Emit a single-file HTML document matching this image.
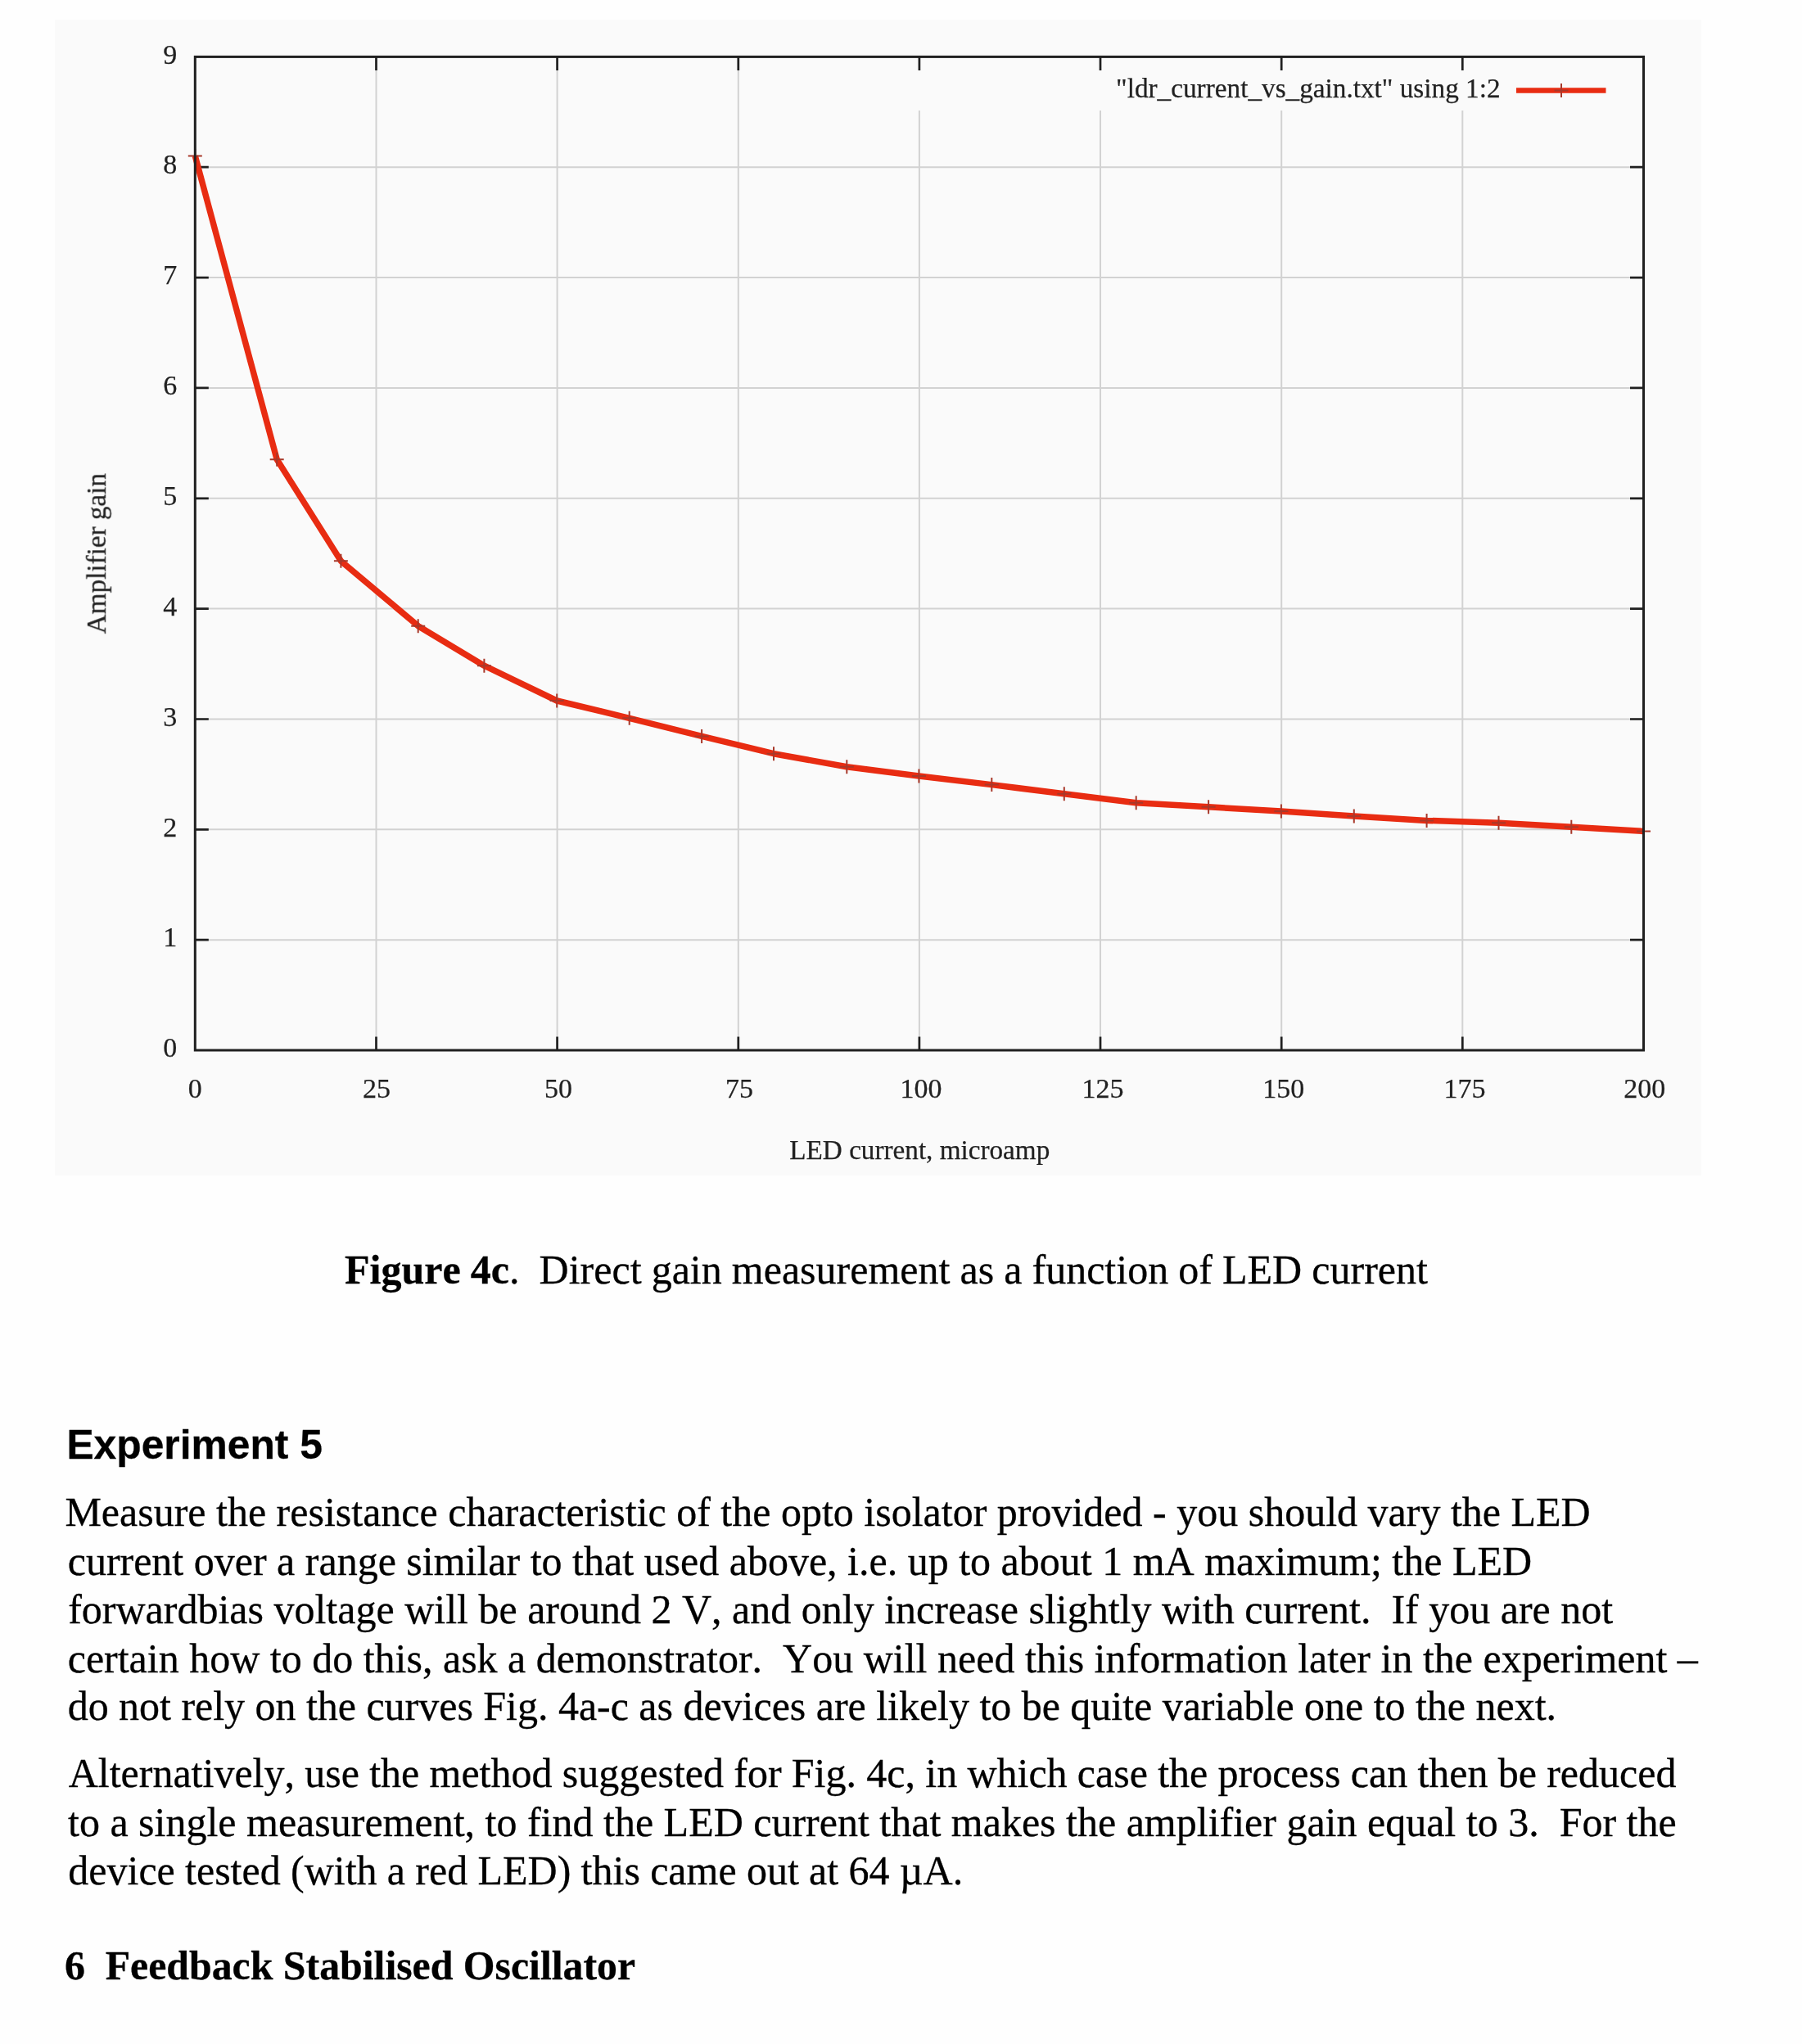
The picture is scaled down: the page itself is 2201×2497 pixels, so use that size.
<!DOCTYPE html><html><head><meta charset="utf-8"><title>Figure 4c</title><style>
html,body{margin:0;padding:0;background:#fefefe;}
#pg{font-kerning:none;}
.p,.h{-webkit-text-stroke:0.3px #000;}
#pg{position:relative;width:2201px;height:2497px;overflow:hidden;background:#fefefe;}
.p{position:absolute;white-space:pre;font-family:"Liberation Serif",serif;font-size:50px;line-height:50px;color:#000;}
.h{position:absolute;white-space:pre;font-family:"Liberation Sans",sans-serif;font-weight:bold;font-size:50px;line-height:50px;color:#000;}
</style></head><body><div id="pg">
<svg width="2201" height="1440" viewBox="0 0 2201 1440" style="position:absolute;left:0;top:0">
<rect x="67" y="24" width="2011" height="1412" fill="#fafafa"/>
<path d="M238.3 1148.2H2007.5 M238.3 1013.3H2007.5 M238.3 878.5H2007.5 M238.3 743.6H2007.5 M238.3 608.8H2007.5 M238.3 473.9H2007.5 M238.3 339.1H2007.5 M238.3 204.2H2007.5 M459.5 69.4V1283.0 M680.6 69.4V1283.0 M901.8 69.4V1283.0 M1122.9 135V1283.0 M1344.0 135V1283.0 M1565.2 135V1283.0 M1786.3 135V1283.0" stroke="#d2d2d2" stroke-width="2" fill="none"/>
<path d="M238.3 1148.2h16.5 M2007.5 1148.2h-16.5 M238.3 1013.3h16.5 M2007.5 1013.3h-16.5 M238.3 878.5h16.5 M2007.5 878.5h-16.5 M238.3 743.6h16.5 M2007.5 743.6h-16.5 M238.3 608.8h16.5 M2007.5 608.8h-16.5 M238.3 473.9h16.5 M2007.5 473.9h-16.5 M238.3 339.1h16.5 M2007.5 339.1h-16.5 M238.3 204.2h16.5 M2007.5 204.2h-16.5 M459.5 1283.0v-16.5 M459.5 69.4v16.5 M680.6 1283.0v-16.5 M680.6 69.4v16.5 M901.8 1283.0v-16.5 M901.8 69.4v16.5 M1122.9 1283.0v-16.5 M1122.9 69.4v16.5 M1344.0 1283.0v-16.5 M1344.0 69.4v16.5 M1565.2 1283.0v-16.5 M1565.2 69.4v16.5 M1786.3 1283.0v-16.5 M1786.3 69.4v16.5" stroke="#202020" stroke-width="2.7" fill="none"/>
<g font-family="Liberation Serif" font-size="34" fill="#202020" stroke="#202020" stroke-width="0.25" opacity="0.995"><text x="216.3" y="1291.2" text-anchor="end">0</text><text x="216.3" y="1156.4" text-anchor="end">1</text><text x="216.3" y="1021.5" text-anchor="end">2</text><text x="216.3" y="886.7" text-anchor="end">3</text><text x="216.3" y="751.8" text-anchor="end">4</text><text x="216.3" y="617.0" text-anchor="end">5</text><text x="216.3" y="482.1" text-anchor="end">6</text><text x="216.3" y="347.3" text-anchor="end">7</text><text x="216.3" y="212.4" text-anchor="end">8</text><text x="216.3" y="77.6" text-anchor="end">9</text><text x="238.3" y="1340.5" text-anchor="middle">0</text><text x="460.1" y="1340.5" text-anchor="middle">25</text><text x="682.1" y="1340.5" text-anchor="middle">50</text><text x="903.0" y="1340.5" text-anchor="middle">75</text><text x="1125.1" y="1340.5" text-anchor="middle">100</text><text x="1347.0" y="1340.5" text-anchor="middle">125</text><text x="1567.7" y="1340.5" text-anchor="middle">150</text><text x="1788.9" y="1340.5" text-anchor="middle">175</text><text x="2008.7" y="1340.5" text-anchor="middle">200</text><text x="1123.3" y="1415.6" text-anchor="middle" font-size="33.2">LED current, microamp</text><text transform="translate(128.8,676.2) rotate(-90)" x="0" y="0" text-anchor="middle" font-size="33.2">Amplifier gain</text><text x="1832.6" y="118.6" text-anchor="end" font-size="33.25">"ldr_current_vs_gain.txt" using 1:2</text></g>
<polyline points="238.3,190.5 338.2,561.3 416.4,685.3 510.7,764.7 591.4,813.2 680.2,856.0 768.7,877.3 857.1,899.4 945.0,920.7 1034.3,936.7 1122.4,948.0 1211.3,958.6 1299.8,969.8 1387.7,980.7 1476.1,985.8 1564.9,991.1 1653.8,996.9 1742.6,1002.4 1830.5,1005.2 1919.3,1010.2 2007.5,1015.5" fill="none" stroke="#e82c12" stroke-width="7.5" stroke-linejoin="round"/>
<path d="M1852 110.5H1961.5" stroke="#e82c12" stroke-width="6.5"/>
<path d="M229.8 190.5h17.0M238.3 182.0v17.0M329.7 561.3h17.0M338.2 552.8v17.0M407.9 685.3h17.0M416.4 676.8v17.0M502.2 764.7h17.0M510.7 756.2v17.0M582.9 813.2h17.0M591.4 804.7v17.0M671.7 856.0h17.0M680.2 847.5v17.0M760.2 877.3h17.0M768.7 868.8v17.0M848.6 899.4h17.0M857.1 890.9v17.0M936.5 920.7h17.0M945.0 912.2v17.0M1025.8 936.7h17.0M1034.3 928.2v17.0M1113.9 948.0h17.0M1122.4 939.5v17.0M1202.8 958.6h17.0M1211.3 950.1v17.0M1291.3 969.8h17.0M1299.8 961.3v17.0M1379.2 980.7h17.0M1387.7 972.2v17.0M1467.6 985.8h17.0M1476.1 977.3v17.0M1556.4 991.1h17.0M1564.9 982.6v17.0M1645.3 996.9h17.0M1653.8 988.4v17.0M1734.1 1002.4h17.0M1742.6 993.9v17.0M1822.0 1005.2h17.0M1830.5 996.7v17.0M1910.8 1010.2h17.0M1919.3 1001.7v17.0M1999.0 1015.5h17.0M2007.5 1007.0v17.0M1898.5 110.5h17.0M1907.0 102.0v17.0" stroke="#a8382a" stroke-width="2" fill="none"/>
<rect x="238.3" y="69.4" width="1769.2" height="1213.6" stroke="#202020" stroke-width="3" fill="none"/>
</svg>
<div class="p" style="left:421.0px;top:1526.4px;word-spacing:-0.4px"><b>Figure 4c</b>.  Direct gain measurement as a function of LED current</div>
<div class="h" style="left:81.4px;top:1740.3px"><span style="font-size:49.75px">Experiment 5</span></div>
<div class="p" style="left:79.4px;top:1822.1px">Measure the resistance characteristic of the opto isolator provided - you should vary the LED</div>
<div class="p" style="left:82.7px;top:1882.3px">current over a range similar to that used above, i.e. up to about 1 mA maximum; the LED</div>
<div class="p" style="left:83.2px;top:1941.1px">forwardbias voltage will be around 2 V, and only increase slightly with current.  If you are not</div>
<div class="p" style="left:82.7px;top:2000.5px">certain how to do this, ask a demonstrator.  You will need this information later in the experiment –</div>
<div class="p" style="left:82.7px;top:2059.2px;word-spacing:-0.1px">do not rely on the curves Fig. 4a-c as devices are likely to be quite variable one to the next.</div>
<div class="p" style="left:83.7px;top:2141.1px;word-spacing:-0.23px">Alternatively, use the method suggested for Fig. 4c, in which case the process can then be reduced</div>
<div class="p" style="left:83.0px;top:2201.1px">to a single measurement, to find the LED current that makes the amplifier gain equal to 3.  For the</div>
<div class="p" style="left:83.3px;top:2260.1px;word-spacing:-0.2px">device tested (with a red LED) this came out at 64 µA.</div>
<div class="p" style="left:79.0px;top:2375.5px"><b>6 <span style="margin-left:-0.3px"></span> <span style="font-size:49.8px">Feedback Stabilised Oscillator</span></b></div>
</div></body></html>
